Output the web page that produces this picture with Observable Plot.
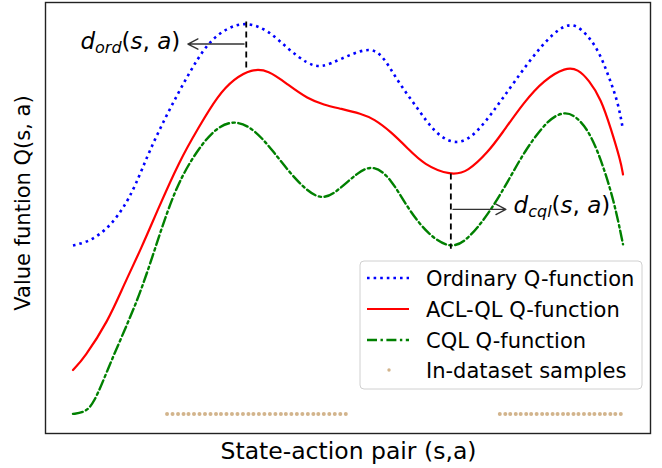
<!DOCTYPE html>
<html>
<head>
<meta charset="utf-8">
<script src="https://cdn.jsdelivr.net/npm/d3@7"></script>
<script src="https://cdn.jsdelivr.net/npm/@observablehq/plot@0.6"></script>
<style>
  html, body { margin: 0; padding: 0; background: #fff; }
  #chart { width: 662px; height: 468px; }
</style>
</head>
<body>
<div id="chart"></div>
<script>
// ---- Data ----
const ordX = [0, 0.24, 0.47, 0.69, 0.91, 1.13, 1.38, 1.73, 2.09, 2.45, 2.82, 3.15, 3.55, 3.91, 4.27, 4.51, 4.87, 5.33, 5.60, 5.91, 6.27, 6.56, 6.91, 7.24, 7.60, 8.02, 8.51, 8.96, 9.24, 9.55, 9.73, 9.91, 10];
const ordY = [4.30, 4.38, 4.56, 4.83, 5.24, 5.80, 6.69, 7.71, 8.65, 9.49, 9.87, 10.0, 9.80, 9.31, 8.93, 8.83, 9.06, 9.34, 9.24, 8.47, 7.79, 7.20, 6.87, 7.02, 7.63, 8.47, 9.41, 10.0, 9.87, 9.31, 8.65, 7.96, 7.25];

const aclX = [0, 0.20, 0.64, 0.93, 1.24, 1.55, 1.93, 2.27, 2.64, 2.93, 3.24, 3.55, 3.91, 4.27, 4.56, 4.87, 5.24, 5.47, 5.78, 6.09, 6.38, 6.87, 7.18, 7.55, 7.78, 8.20, 8.56, 8.96, 9.18, 9.38, 9.60, 9.78, 9.96, 10];
const aclY = [1.12, 1.42, 2.37, 3.31, 4.22, 5.24, 6.44, 7.28, 8.14, 8.55, 8.80, 8.78, 8.40, 8.04, 7.89, 7.79, 7.66, 7.53, 7.20, 6.77, 6.36, 6.08, 6.18, 6.69, 7.12, 7.96, 8.52, 8.85, 8.80, 8.52, 8.04, 7.28, 6.44, 6.11];

const cqlX = [0, 0.20, 0.38, 0.64, 0.93, 1.24, 1.55, 1.84, 2.15, 2.56, 2.93, 3.29, 3.65, 4.02, 4.45, 4.75, 5.18, 5.47, 5.78, 6.09, 6.45, 6.87, 7.18, 7.55, 7.91, 8.20, 8.64, 8.93, 9.11, 9.36, 9.60, 9.84, 10];
const cqlY = [0.00, 0.03, 0.25, 1.17, 2.11, 3.13, 4.48, 5.67, 6.51, 7.28, 7.51, 7.28, 6.69, 6.01, 5.45, 5.60, 6.18, 6.36, 6.01, 5.24, 4.58, 4.20, 4.45, 5.09, 5.93, 6.69, 7.53, 7.71, 7.63, 7.28, 6.51, 5.42, 4.33];

const sampleX = [1.71, 1.81, 1.91, 2.01, 2.10, 2.20, 2.30, 2.40, 2.50, 2.60, 2.69, 2.79, 2.89, 2.99, 3.09, 3.19, 3.28, 3.38, 3.48, 3.58, 3.68, 3.78, 3.87, 3.97, 4.07, 4.17, 4.27, 4.37, 4.46, 4.56, 4.66, 4.76, 4.86, 4.96,
                 7.76, 7.86, 7.95, 8.05, 8.14, 8.24, 8.33, 8.43, 8.53, 8.62, 8.72, 8.81, 8.91, 9.00, 9.10, 9.19, 9.29, 9.39, 9.48, 9.58, 9.67, 9.77, 9.86, 9.96];
const sampleY = 0;

// gaps (dashed verticals): x, top, bottom
const gapX = [3.15, 6.87];
const gapTop = [10.0, 6.12];
const gapBottom = [8.80, 4.20];
// arrows: from -> to
const arrowX1 = [3.11, 6.91];
const arrowX2 = [2.09, 7.87];
const arrowY = [9.44, 5.22];
// annotation labels
const labelSub = ["ord", "cql"];
const labelX = [0.145, 8.02];
const labelY = [9.29, 5.11];

const seriesNames = ["Ordinary Q-function", "ACL-QL Q-function", "CQL Q-function", "In-dataset samples"];
const xLabel = "State-action pair (s,a)";
const yLabel = "Value funtion Q(s, a)";

// ---- Build tables ----
const ord = ordX.map((x, i) => ({x, y: ordY[i]}));
const acl = aclX.map((x, i) => ({x, y: aclY[i]}));
const cql = cqlX.map((x, i) => ({x, y: cqlY[i]}));
const samples = sampleX.map(x => ({x, y: sampleY}));
const gaps = gapX.map((x, i) => ({x, y1: gapTop[i], y2: gapBottom[i]}));
const arrows = arrowX1.map((x1, i) => ({x1, x2: arrowX2[i], y: arrowY[i]}));

const FONT = "DejaVu Sans";
const CURVE = "basis";

const plot = Plot.plot({
  width: 662,
  height: 468,
  marginLeft: 45,
  marginRight: 12,
  marginTop: 2,
  marginBottom: 35,
  style: {fontFamily: FONT, background: "#fff"},
  x: {domain: [-0.5, 10.5], axis: null},
  y: {domain: [-0.5, 10.5], axis: null},
  marks: [
    Plot.line(ord, {x: "x", y: "y", curve: CURVE, stroke: "#0000ff", strokeWidth: 2.6, strokeDasharray: "2.6,4", strokeLinecap: "butt"}),
    Plot.line(acl, {x: "x", y: "y", curve: CURVE, stroke: "#ff0000", strokeWidth: 2.2}),
    Plot.line(cql, {x: "x", y: "y", curve: CURVE, stroke: "#008000", strokeWidth: 2.4, strokeDasharray: "10,3.5,2.4,3.5"}),
    Plot.dot(samples, {x: "x", y: "y", r: 2, fill: "#D2B48C", stroke: "none"}),
    Plot.ruleX(gaps, {x: "x", y1: "y1", y2: "y2", stroke: "#000", strokeWidth: 1.8, strokeDasharray: "6,4"}),
    Plot.arrow(arrows, {x1: "x1", x2: "x2", y1: "y", y2: "y", stroke: "#333", strokeWidth: 1.4, headLength: 12, headAngle: 55}),
    Plot.frame({stroke: "#222", strokeWidth: 1.4})
  ]
});

document.getElementById("chart").appendChild(plot);

const svg = d3.select(plot);
const sx = plot.scale("x"), sy = plot.scale("y");

// annotation labels with math-like styling
labelSub.forEach((sub, i) => {
  const t = svg.append("text")
    .attr("x", sx.apply(labelX[i]))
    .attr("y", sy.apply(labelY[i]))
    .attr("text-anchor", "start")
    .attr("font-family", FONT)
    .attr("font-size", 23)
    .attr("fill", "#000");
  t.append("tspan").attr("font-style", "italic").text("d");
  t.append("tspan").attr("font-style", "italic").attr("font-size", 16).attr("dy", 4).text(sub);
  t.append("tspan").attr("dy", -4).text("(");
  t.append("tspan").attr("font-style", "italic").text("s");
  t.append("tspan").text(", ");
  t.append("tspan").attr("font-style", "italic").text("a");
  t.append("tspan").text(")");
});

// axis labels
svg.append("text")
  .attr("x", (45 + 650) / 2 + 1).attr("y", 459)
  .attr("text-anchor", "middle")
  .attr("font-family", FONT).attr("font-size", 23.5).attr("fill", "#000")
  .text(xLabel);
svg.append("text")
  .attr("transform", "translate(30,203) rotate(-90)")
  .attr("text-anchor", "middle")
  .attr("font-family", FONT).attr("font-size", 21).attr("fill", "#000")
  .text(yLabel);

// legend
const lg = svg.append("g").attr("font-family", FONT).attr("font-size", 21).attr("text-anchor", "start");
lg.append("rect").attr("x", 360).attr("y", 261).attr("width", 282).attr("height", 128)
  .attr("rx", 4).attr("fill", "#fff").attr("fill-opacity", 0.85).attr("stroke", "#d0d0d0").attr("stroke-width", 1);
const rows = [278, 309, 340, 370];
const lineStyles = [
  {stroke: "#0000ff", w: 2.6, dash: "2.6,4"},
  {stroke: "#ff0000", w: 2.2, dash: null},
  {stroke: "#008000", w: 2.4, dash: "10,3.5,2.4,3.5"}
];
lineStyles.forEach((s, i) => {
  const l = lg.append("line").attr("x1", 367).attr("x2", 409).attr("y1", rows[i]).attr("y2", rows[i])
    .attr("stroke", s.stroke).attr("stroke-width", s.w);
  if (s.dash) l.attr("stroke-dasharray", s.dash);
});
lg.append("circle").attr("cx", 389).attr("cy", rows[3]).attr("r", 1.7).attr("fill", "#D2B48C");
seriesNames.forEach((name, i) => {
  lg.append("text").attr("x", 426).attr("y", rows[i]).attr("dy", "0.36em").attr("text-anchor", "start").attr("fill", "#000").text(name);
});
</script>
</body>
</html>
